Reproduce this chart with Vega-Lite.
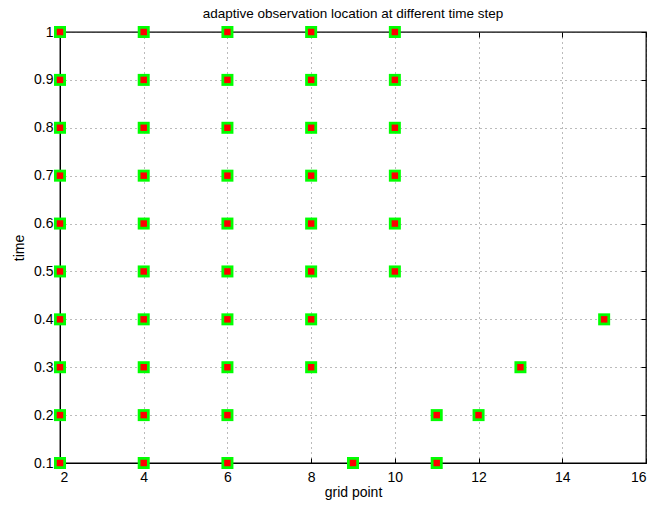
{
  "$schema": "https://vega.github.io/schema/vega-lite/v6.json",
  "autosize": {"type": "none"},
  "width": 586,
  "height": 431,
  "padding": {"left": 60, "top": 32, "right": 8, "bottom": 43},
  "background": "white",
  "title": {"text": "adaptive observation location at different time step", "fontSize": 13.5, "fontWeight": "normal", "font": "Liberation Sans", "color": "black", "offset": 5},
  "config": {
    "view": {"stroke": "black", "strokeWidth": 1.3},
    "axis": {"labelFont": "Liberation Sans", "titleFont": "Liberation Sans", "labelFontSize": 14, "titleFontSize": 14, "titleFontWeight": "normal", "labelColor": "black", "titleColor": "black", "domainColor": "black", "tickColor": "black", "gridColor": "#555", "gridDash": [1, 4], "gridOpacity": 0.8, "tickSize": -5}
  },
  "data": {"values": [
    {"x": 2, "t": 1.0}, {"x": 4, "t": 1.0}, {"x": 6, "t": 1.0}, {"x": 8, "t": 1.0}, {"x": 10, "t": 1.0},
    {"x": 2, "t": 0.9}, {"x": 4, "t": 0.9}, {"x": 6, "t": 0.9}, {"x": 8, "t": 0.9}, {"x": 10, "t": 0.9},
    {"x": 2, "t": 0.8}, {"x": 4, "t": 0.8}, {"x": 6, "t": 0.8}, {"x": 8, "t": 0.8}, {"x": 10, "t": 0.8},
    {"x": 2, "t": 0.7}, {"x": 4, "t": 0.7}, {"x": 6, "t": 0.7}, {"x": 8, "t": 0.7}, {"x": 10, "t": 0.7},
    {"x": 2, "t": 0.6}, {"x": 4, "t": 0.6}, {"x": 6, "t": 0.6}, {"x": 8, "t": 0.6}, {"x": 10, "t": 0.6},
    {"x": 2, "t": 0.5}, {"x": 4, "t": 0.5}, {"x": 6, "t": 0.5}, {"x": 8, "t": 0.5}, {"x": 10, "t": 0.5},
    {"x": 2, "t": 0.4}, {"x": 4, "t": 0.4}, {"x": 6, "t": 0.4}, {"x": 8, "t": 0.4}, {"x": 15, "t": 0.4},
    {"x": 2, "t": 0.3}, {"x": 4, "t": 0.3}, {"x": 6, "t": 0.3}, {"x": 8, "t": 0.3}, {"x": 13, "t": 0.3},
    {"x": 2, "t": 0.2}, {"x": 4, "t": 0.2}, {"x": 6, "t": 0.2}, {"x": 11, "t": 0.2}, {"x": 12, "t": 0.2},
    {"x": 2, "t": 0.1}, {"x": 4, "t": 0.1}, {"x": 6, "t": 0.1}, {"x": 9, "t": 0.1}, {"x": 11, "t": 0.1}
  ]},
  "resolve": {"axis": {"x": "independent", "y": "independent"}},
  "layer": [
    {
      "mark": {"type": "point", "shape": "square", "filled": true, "color": "#00ff00", "opacity": 1, "size": 144},
      "encoding": {
        "x": {"field": "x", "type": "quantitative", "scale": {"domain": [2, 16], "nice": false, "zero": false}, "axis": {"title": "grid point", "values": [2, 4, 6, 8, 10, 12, 14, 16], "labelPadding": 12, "titlePadding": 1}},
        "y": {"field": "t", "type": "quantitative", "scale": {"domain": [0.1, 1], "nice": false, "zero": false}, "axis": {"title": "time", "values": [0.1, 0.2, 0.3, 0.4, 0.5, 0.6, 0.7, 0.8, 0.9, 1], "labelExpr": "datum.value == 1 ? '1' : format(datum.value, '.1f')", "labelPadding": 12, "titlePadding": 7}}
      }
    },
    {
      "mark": {"type": "point", "shape": "square", "filled": true, "color": "#ff0000", "opacity": 1, "size": 42},
      "encoding": {
        "x": {"field": "x", "type": "quantitative", "axis": {"orient": "top", "values": [2, 4, 6, 8, 10, 12, 14, 16], "labels": false, "grid": false, "domain": false, "title": null}},
        "y": {"field": "t", "type": "quantitative", "axis": {"orient": "right", "values": [0.1, 0.2, 0.3, 0.4, 0.5, 0.6, 0.7, 0.8, 0.9, 1], "labels": false, "grid": false, "domain": false, "title": null}}
      }
    }
  ]
}
